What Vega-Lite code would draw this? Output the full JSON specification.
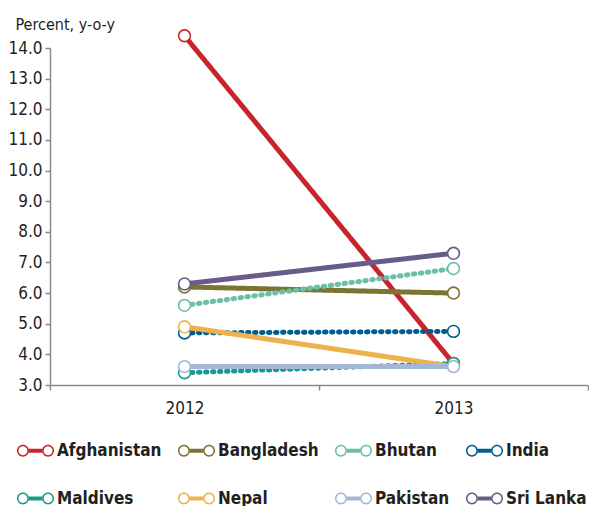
{
  "$schema": "https://vega.github.io/schema/vega-lite/v6.json",
  "autosize": {"type": "none"},
  "width": 538,
  "height": 337,
  "padding": {"left": 50, "top": 48, "right": 1, "bottom": 121},
  "background": "white",
  "data": {
    "values": [
      {"country": "Afghanistan", "year": "2012", "value": 14.4},
      {"country": "Afghanistan", "year": "2013", "value": 3.7},
      {"country": "Bangladesh", "year": "2012", "value": 6.2},
      {"country": "Bangladesh", "year": "2013", "value": 6.0},
      {"country": "Bhutan", "year": "2012", "value": 5.6},
      {"country": "Bhutan", "year": "2013", "value": 6.8},
      {"country": "India", "year": "2012", "value": 4.7},
      {"country": "India", "year": "2013", "value": 4.75},
      {"country": "Maldives", "year": "2012", "value": 3.4},
      {"country": "Maldives", "year": "2013", "value": 3.7},
      {"country": "Nepal", "year": "2012", "value": 4.9},
      {"country": "Nepal", "year": "2013", "value": 3.6},
      {"country": "Pakistan", "year": "2012", "value": 3.6},
      {"country": "Pakistan", "year": "2013", "value": 3.6},
      {"country": "Sri Lanka", "year": "2012", "value": 6.3},
      {"country": "Sri Lanka", "year": "2013", "value": 7.3}
    ]
  },
  "config": {
    "font": "Liberation Sans Narrow, DejaVu Sans Condensed, sans-serif",
    "view": {"stroke": null},
    "axis": {
      "domainColor": "#8a8a8a",
      "domainWidth": 1.5,
      "tickColor": "#8a8a8a",
      "tickWidth": 1.5,
      "tickSize": 5,
      "grid": false,
      "labelColor": "#231f20",
      "labelFontSize": 17,
      "labelFont": "Liberation Sans Narrow, DejaVu Sans Condensed, sans-serif"
    }
  },
  "encoding": {
    "x": {
      "field": "year",
      "type": "ordinal",
      "scale": {"paddingInner": 0, "paddingOuter": 0},
      "axis": {"title": null, "labelAngle": 0, "tickBand": "extent", "labelPadding": 10}
    },
    "y": {
      "field": "value",
      "type": "quantitative",
      "scale": {"domain": [3, 14], "nice": false, "zero": false},
      "axis": {
        "values": [3, 4, 5, 6, 7, 8, 9, 10, 11, 12, 13, 14],
        "format": ".1f",
        "labelPadding": 3,
        "title": "Percent, y-o-y",
        "titleAngle": 0,
        "titleAlign": "left",
        "titleAnchor": "end",
        "titleBaseline": "alphabetic",
        "titleX": -35,
        "titleY": -19,
        "titleFontSize": 16,
        "titleFontWeight": "normal",
        "titleColor": "#231f20",
        "titleFont": "Liberation Sans Narrow, DejaVu Sans Condensed, sans-serif"
      }
    },
    "color": {
      "field": "country",
      "type": "nominal",
      "scale": {
        "domain": ["Afghanistan", "Bangladesh", "Bhutan", "India", "Maldives", "Nepal", "Pakistan", "Sri Lanka"],
        "range": ["#c8242b", "#7a7533", "#6bbfa8", "#005f8f", "#1a9a8e", "#ebb24e", "#a4b7d9", "#6a5c8a"]
      },
      "legend": {
        "orient": "none",
        "legendX": -33,
        "legendY": 384,
        "columns": 4,
        "direction": "horizontal",
        "title": null,
        "gridAlign": "each",
        "columnPadding": 16,
        "rowPadding": 21,
        "symbolType": "M -1 0 A 0.32 0.32 0 1 0 -0.36 0 A 0.32 0.32 0 1 0 -1 0 Z M -0.92 0 A 0.24 0.24 0 1 1 -0.44 0 A 0.24 0.24 0 1 1 -0.92 0 Z M 0.36 0 A 0.32 0.32 0 1 0 1 0 A 0.32 0.32 0 1 0 0.36 0 Z M 0.44 0 A 0.24 0.24 0 1 1 0.92 0 A 0.24 0.24 0 1 1 0.44 0 Z M -0.37 -0.11 L 0.37 -0.11 L 0.37 0.11 L -0.37 0.11 Z",
        "symbolSize": 1369,
        "symbolStrokeWidth": 0,
        "labelFontSize": 17,
        "labelFontWeight": "bold",
        "labelColor": "#231f20",
        "labelOffset": 3,
        "labelFont": "Liberation Sans Narrow, DejaVu Sans Condensed, sans-serif",
        "labelLimit": 200,
        "symbolLimit": 8,
        "encode": {
          "symbols": {
            "update": {
              "fill": {"scale": "color", "field": "value"},
              "stroke": {"value": "transparent"},
              "opacity": {"value": 1},
              "fillOpacity": {"value": 1}
            }
          }
        }
      }
    }
  },
  "layer": [
    {
      "mark": {"type": "line", "strokeWidth": 5, "strokeCap": "round"},
      "encoding": {
        "detail": {"field": "country"},
        "strokeDash": {
          "field": "country",
          "type": "nominal",
          "legend": null,
          "scale": {
            "domain": ["Afghanistan", "Bangladesh", "Bhutan", "India", "Maldives", "Nepal", "Pakistan", "Sri Lanka"],
            "range": [[1, 0], [1, 0], [1.5, 5.5], [1.5, 5.5], [1.5, 5.5], [1, 0], [1, 0], [1, 0]]
          }
        }
      }
    },
    {
      "mark": {"type": "point", "filled": false, "fill": "white", "fillOpacity": 1, "opacity": 1, "size": 140, "strokeWidth": 1.6}
    }
  ]
}
